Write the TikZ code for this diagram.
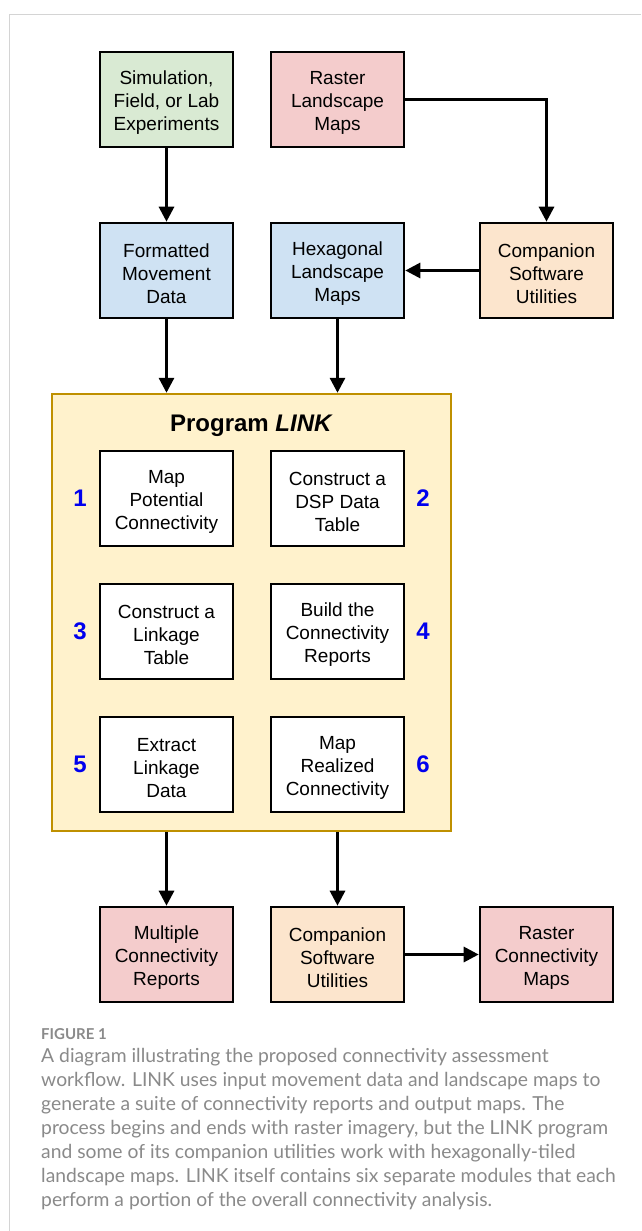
\documentclass[tikz,border=0pt]{standalone}
\usepackage{fontspec}
\setmainfont{Liberation Sans}
\newfontfamily\capfont{Lato}
\usetikzlibrary{arrows.meta}
\definecolor{fgreen}{HTML}{D9EAD3}
\definecolor{fred}{HTML}{F4CCCC}
\definecolor{fblue}{HTML}{CFE2F3}
\definecolor{forange}{HTML}{FCE5CD}
\definecolor{fyellow}{HTML}{FFF2CC}
\definecolor{fgold}{HTML}{BF9000}
\definecolor{numblue}{HTML}{0000EE}
\definecolor{capgray}{HTML}{8A8A8A}
\definecolor{framegray}{HTML}{D4D4D4}
% taller first line so the three lines sit a little lower in each box
\newcommand\toprule{\rule{0pt}{19.5pt}}
\tikzset{
  box/.style={draw=black, line width=2.6pt, minimum width=133pt, minimum height=95pt,
    align=center, inner sep=2pt, font=\fontsize{19}{23}\selectfont},
  flow/.style={line width=3pt, -{Triangle[length=15pt,width=15pt]}},
  num/.style={text=numblue, font=\fontsize{24}{28}\selectfont\bfseries},
}
\begin{document}
\begin{tikzpicture}[x=1pt,y=-1pt]
\useasboundingbox (0,0) rectangle (641,1231);
\fill[white] (0,0) rectangle (641,1231);
% page frame
\draw[framegray, line width=1pt] (9,1231) -- (9,15) -- (641,15);

% program container
\node[draw=fgold, fill=fyellow, line width=2.4pt, minimum width=399pt, minimum height=437pt,
  inner sep=0pt] (link) at (251.5,612.5) {};
\node[font=\fontsize{24}{28}\selectfont\bfseries] (title) at (251.5,426) {Program \textit{LINK}};

% inputs
\node[box, fill=fgreen] (exp) at (166.5,99.5) {\toprule Simulation,\\Field, or Lab\\Experiments};
\node[box, fill=fred] (raster) at (337.5,99.5) {\toprule Raster\\Landscape\\Maps};
\node[box, fill=fblue] (fmt) at (166.5,270.5) {\toprule Formatted\\Movement\\Data};
\node[box, fill=fblue] (hex) at (337.5,270.5) {\toprule Hexagonal\\Landscape\\Maps};
\node[box, fill=forange] (comp1) at (546.5,270.5) {\toprule Companion\\Software\\Utilities};

% modules
\node[box, fill=white] (m1) at (166.5,498.5) {\toprule Map\\Potential\\Connectivity};
\node[box, fill=white] (m2) at (337.5,498.5) {\toprule Construct a\\DSP Data\\Table};
\node[box, fill=white] (m3) at (166.5,631.5) {\toprule Construct a\\Linkage\\Table};
\node[box, fill=white] (m4) at (337.5,631.5) {\toprule Build the\\Connectivity\\Reports};
\node[box, fill=white] (m5) at (166.5,764.5) {\toprule Extract\\Linkage\\Data};
\node[box, fill=white] (m6) at (337.5,764.5) {\toprule Map\\Realized\\Connectivity};
\node[num] (n1) at (80,498.5) {1};
\node[num] (n2) at (423,498.5) {2};
\node[num] (n3) at (80,631.5) {3};
\node[num] (n4) at (423,631.5) {4};
\node[num] (n5) at (80,764.5) {5};
\node[num] (n6) at (423,764.5) {6};

% outputs
\node[box, fill=fred] (rep) at (166.5,954.5) {\toprule Multiple\\Connectivity\\Reports};
\node[box, fill=forange] (comp2) at (337.5,954.5) {\toprule Companion\\Software\\Utilities};
\node[box, fill=fred] (rcm) at (546.5,954.5) {\toprule Raster\\Connectivity\\Maps};

% connectors
\coordinate (bend) at (comp1.north |- raster.east);
\draw[flow] (exp) -- (fmt);
\draw[flow] (raster.east) -- (bend) -- (comp1.north);
\draw[flow] (comp1) -- (hex);
\draw[flow] (fmt.south) -- (fmt.south |- link.north);
\draw[flow] (hex.south) -- (hex.south |- link.north);
\draw[flow] (link.south -| rep.north) -- (rep.north);
\draw[flow] (link.south -| comp2.north) -- (comp2.north);
\draw[flow] (comp2) -- (rcm);

% caption
\node[anchor=base west, inner sep=0pt, text=capgray, font=\capfont\bfseries\fontsize{15}{18}\selectfont] (fig) at (41,1039) {FIGURE 1};
\node[anchor=north west, inner sep=0pt, align=left, text=capgray,
  font=\capfont\fontsize{19.3}{24}\selectfont] (cap) at (41,1048)
  {A diagram illustrating the proposed connectivity assessment\\
   workflow. LINK uses input movement data and landscape maps to\\
   generate a suite of connectivity reports and output maps. The\\
   process begins and ends with raster imagery, but the LINK program\\
   and some of its companion utilities work with hexagonally-tiled\\
   landscape maps. LINK itself contains six separate modules that each\\
   perform a portion of the overall connectivity analysis.};
\end{tikzpicture}
\end{document}
